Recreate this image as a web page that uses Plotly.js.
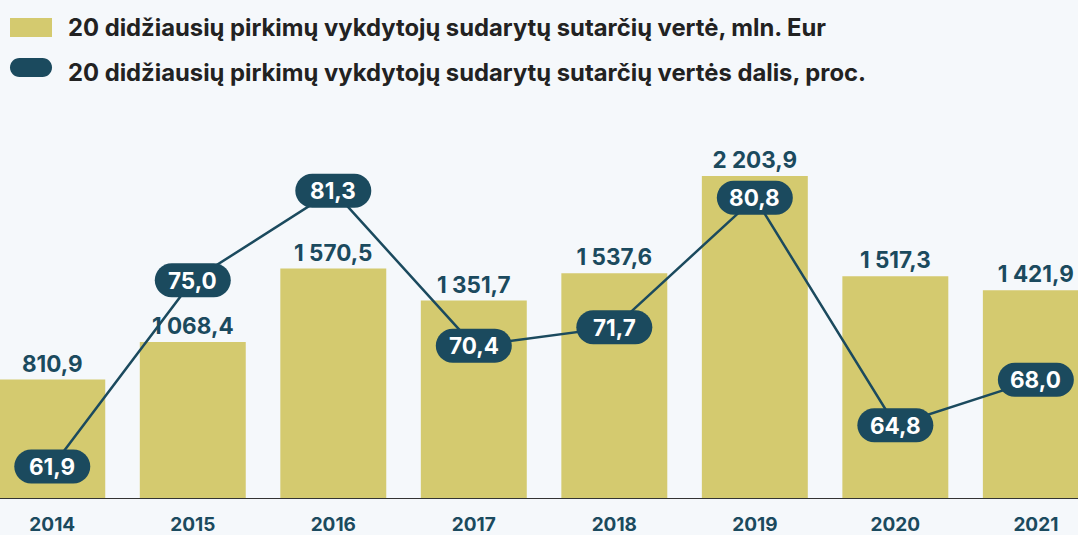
<!DOCTYPE html>
<html>
<head>
<meta charset="utf-8">
<script src="https://cdn.plot.ly/plotly-3.0.1.min.js"></script>
<style>
  html, body { margin: 0; padding: 0; background: #f5f8fb; }
  #chart { width: 1078px; height: 535px; }
</style>
</head>
<body>
<div id="chart"></div>
<script>
// ---- data ----
const years = ['2014', '2015', '2016', '2017', '2018', '2019', '2020', '2021'];
const contractValue = [810.9, 1068.4, 1570.5, 1351.7, 1537.6, 2203.9, 1517.3, 1421.9];
const contractShare = [61.9, 75.0, 81.3, 70.4, 71.7, 80.8, 64.8, 68.0];
const seriesNames = [
  '20 didžiausių pirkimų vykdytojų sudarytų sutarčių vertė, mln. Eur',
  '20 didžiausių pirkimų vykdytojų sudarytų sutarčių vertės dalis, proc.'
];

// ---- style ----
const W = 1078, H = 535;
const BAR = '#d4ca6f';
const TEAL = '#1b4a5e';
const BG = '#f5f8fb';
const FONT = 'Inter, "Noto Sans", sans-serif';
const mT = 0, mB = 37;
const plotH = H - mT - mB;

function pillPath(w, h) {
  const r = h / 2, a = w / 2 - r, k = 0.5523 * r;
  return `M ${-a},${-r} L ${a},${-r} ` +
    `C ${a + k},${-r} ${a + r},${-k} ${a + r},0 ` +
    `C ${a + r},${k} ${a + k},${r} ${a},${r} ` +
    `L ${-a},${r} ` +
    `C ${-a - k},${r} ${-a - r},${k} ${-a - r},0 ` +
    `C ${-a - r},${-k} ${-a - k},${-r} ${-a},${-r} Z`;
}
const fmt1 = v => v.toFixed(1).replace('.', ',');

const barTrace = {
  type: 'bar',
  x: years,
  y: contractValue,
  width: 0.754,
  marker: { color: BAR },
  texttemplate: '%{y:,.1f}',
  textposition: 'outside',
  cliponaxis: false,
  textfont: { family: FONT, size: 22.5, color: TEAL, weight: 700 },
  hoverinfo: 'skip',
  name: seriesNames[0]
};
const lineTrace = {
  type: 'scatter',
  mode: 'lines',
  x: years,
  y: contractShare,
  yaxis: 'y2',
  line: { color: TEAL, width: 2.5 },
  cliponaxis: false,
  hoverinfo: 'skip',
  name: seriesNames[1]
};

const shapes = [];
const annotations = [];
years.forEach((yr, i) => {
  // category axis: anchor by category index
  shapes.push({
    type: 'path', layer: 'above',
    xref: 'x', yref: 'y2',
    xsizemode: 'pixel', ysizemode: 'pixel',
    xanchor: i, yanchor: contractShare[i],
    path: pillPath(76, 34),
    fillcolor: TEAL, line: { width: 0 }
  });
  annotations.push({
    xref: 'x', yref: 'y2', x: i, y: contractShare[i],
    text: fmt1(contractShare[i]), showarrow: false,
    xanchor: 'center', yanchor: 'middle',
    font: { family: FONT, size: 22.5, color: '#ffffff', weight: 700 }
  });
});

// legend (custom)
const py = p => 1 - (p - mT) / plotH;
shapes.push({
  type: 'rect', xref: 'paper', yref: 'paper', layer: 'above',
  x0: 10 / W, x1: 52 / W, y0: py(37), y1: py(18),
  fillcolor: BAR, line: { width: 0 }
});
shapes.push({
  type: 'path', layer: 'above', xref: 'paper', yref: 'paper',
  xsizemode: 'pixel', ysizemode: 'pixel',
  xanchor: 31 / W, yanchor: py(67.5),
  path: pillPath(42, 19),
  fillcolor: TEAL, line: { width: 0 }
});
seriesNames.forEach((nm, i) => {
  annotations.push({
    xref: 'paper', yref: 'paper', x: 66 / W, y: py(i === 0 ? 27 : 72),
    xanchor: 'left', yanchor: 'middle', showarrow: false,
    text: nm,
    font: { family: FONT, size: 23.8, color: '#222222', weight: 700 }
  });
});

const layout = {
  width: W, height: H,
  margin: { l: 0, r: 0, t: mT, b: mB, pad: 0 },
  paper_bgcolor: BG, plot_bgcolor: BG,
  showlegend: false,
  separators: ', ',
  xaxis: {
    type: 'category',
    range: [-0.372, 7.3],
    showgrid: false, zeroline: false,
    showline: true, linecolor: '#333333', linewidth: 1,
    ticks: '',
    ticklabelstandoff: 9,
    tickfont: { family: FONT, size: 19, color: TEAL, weight: 700 },
    fixedrange: true
  },
  yaxis: {
    range: [0, plotH / (322 / 2203.9)],
    visible: false, showgrid: false, zeroline: false
  },
  yaxis2: {
    overlaying: 'y', anchor: 'x', side: 'right',
    range: [59.68, 94.72],
    visible: false, showgrid: false, zeroline: false
  },
  shapes: shapes,
  annotations: annotations
};

Plotly.newPlot('chart', [barTrace, lineTrace], layout, { staticPlot: true, displayModeBar: false });
</script>
</body>
</html>
